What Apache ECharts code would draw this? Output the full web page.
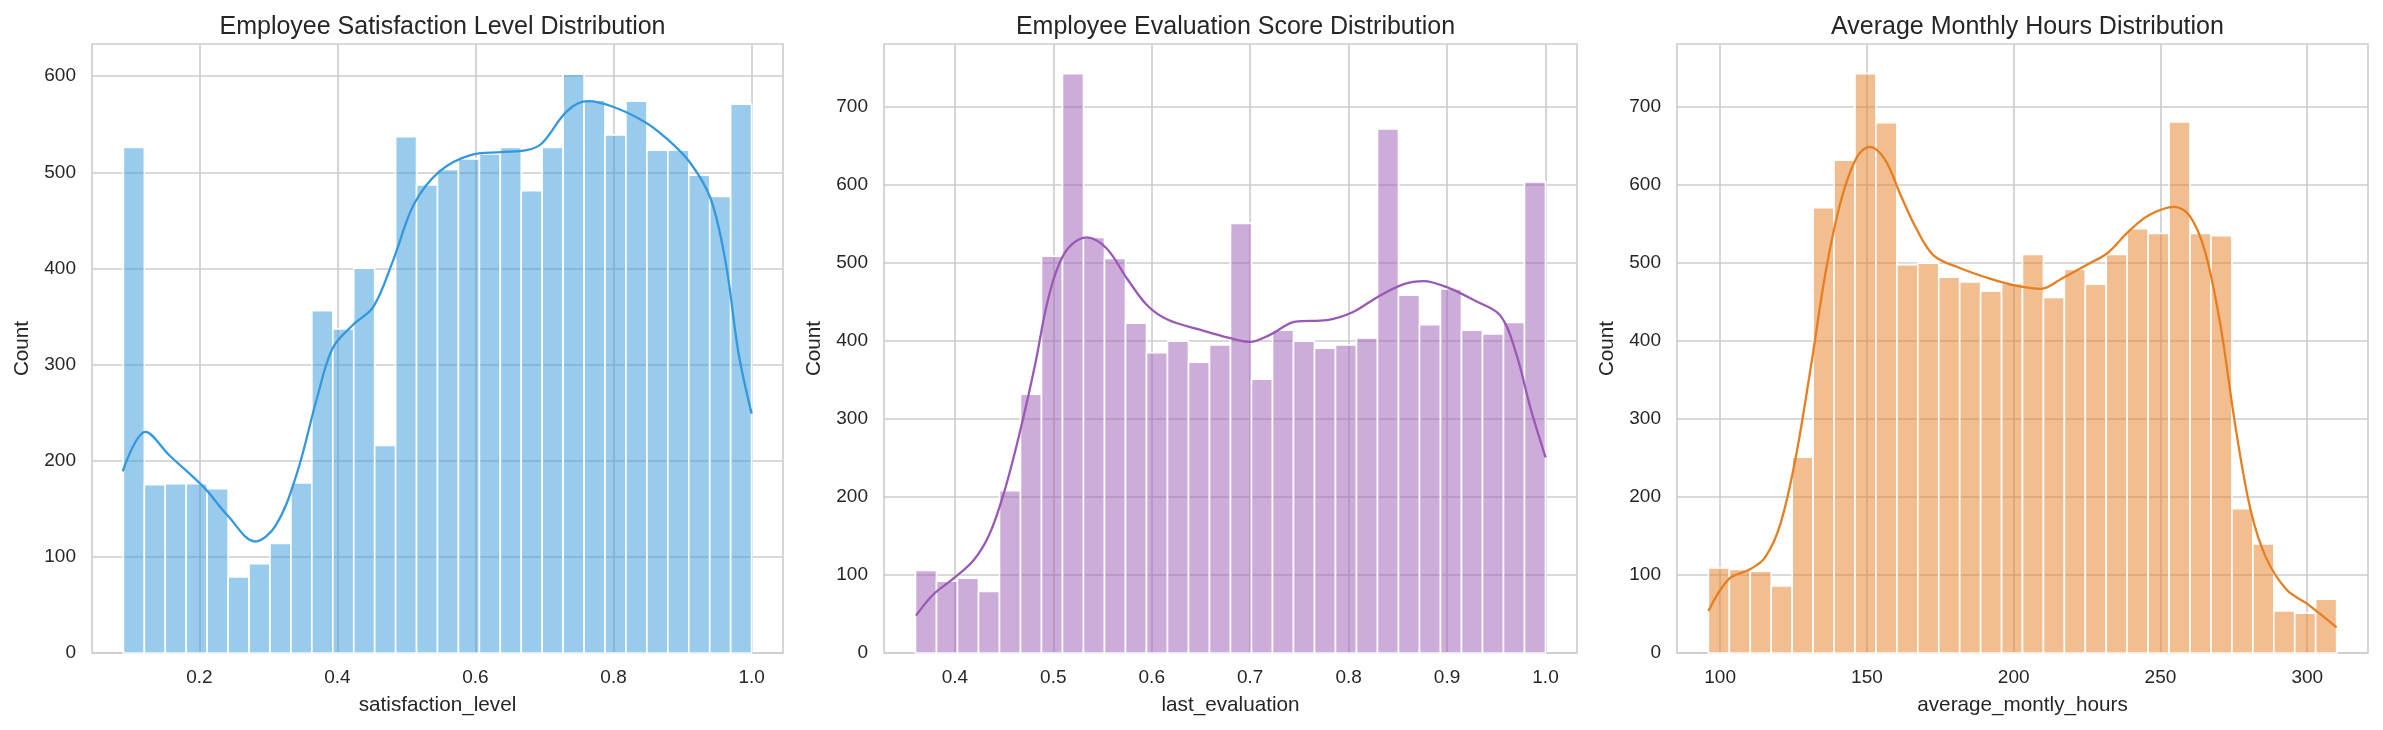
<!DOCTYPE html>
<html>
<head>
<meta charset="utf-8">
<script src="https://cdn.jsdelivr.net/npm/echarts@6/dist/echarts.min.js"></script>
<style>
html,body{margin:0;padding:0;background:#fff;}
#chart{width:2383px;height:730px;}
</style>
</head>
<body>
<div id="chart"></div>
<script>
// ---------- data ----------
const titles = ['Employee Satisfaction Level Distribution', 'Employee Evaluation Score Distribution', 'Average Monthly Hours Distribution'];
const xNames = ['satisfaction_level', 'last_evaluation', 'average_montly_hours'];

// histogram ranges [min, max] of the data (30 bins each)
const satRange = [0.09, 1.0];
const evalRange = [0.36, 1.0];
const hoursRange = [96, 310];

const satCounts = [526, 175, 176, 176, 171, 79, 93, 114, 177, 356, 337, 400, 216, 537, 487, 503, 514, 519, 526, 481, 526, 602, 575, 539, 574, 523, 523, 497, 475, 571];
const evalCounts = [106, 92, 96, 79, 208, 332, 509, 743, 533, 506, 423, 385, 400, 373, 395, 551, 351, 414, 400, 391, 395, 404, 672, 459, 421, 467, 414, 409, 424, 604];
const hoursCounts = [109, 107, 105, 86, 251, 571, 632, 743, 680, 498, 500, 482, 476, 464, 474, 511, 456, 492, 473, 511, 544, 538, 681, 538, 535, 185, 140, 54, 51, 69];

const satKdeX = [0.089, 0.122, 0.156, 0.207, 0.241, 0.281, 0.311, 0.341, 0.370, 0.393, 0.422, 0.452, 0.481, 0.511, 0.548, 0.593, 0.637, 0.674, 0.696, 0.733, 0.763, 0.800, 0.844, 0.874, 0.911, 0.941, 0.963, 0.981, 1.0];
const satKdeY = [189, 230, 206, 172, 143, 116, 133, 186, 264, 317, 341, 360, 409, 467, 501, 518, 521, 523, 530, 564, 574, 568, 553, 537, 510, 472, 404, 312, 249];

const evalKdeX = [0.3605, 0.378, 0.398, 0.419, 0.435, 0.450, 0.466, 0.482, 0.492, 0.502, 0.515, 0.534, 0.554, 0.575, 0.596, 0.617, 0.648, 0.679, 0.700, 0.720, 0.746, 0.778, 0.804, 0.830, 0.856, 0.876, 0.902, 0.928, 0.954, 0.970, 0.985, 1.0];
const evalKdeY = [48, 75, 95, 119, 152, 206, 283, 373, 439, 486, 519, 533, 519, 480, 445, 427, 415, 404, 399, 408, 425, 427, 437, 457, 473, 477, 468, 452, 433, 385, 313, 251];

const hoursKdeX = [96, 103, 110, 115.2, 120.4, 125.6, 130.9, 136.1, 141.3, 146.6, 150.9, 156.1, 161.4, 166.6, 172.7, 181.4, 191.9, 200.6, 209.3, 216.3, 225, 232, 239, 245.9, 254.7, 259.9, 265.1, 270.4, 275.6, 280.8, 286, 293, 300, 310];
const hoursKdeY = [54, 95, 107, 122, 164, 248, 367, 492, 582, 636, 649, 633, 588, 546, 510, 494, 480, 471, 467, 480, 498, 513, 540, 561, 572, 561, 516, 421, 289, 182, 122, 81, 63, 33];

// axis extents and tick labels
const xExtents = [[0.0445, 1.0455], [0.328, 1.032], [85.3, 320.7]];
const yMax = [633.5, 781, 781];
const xTicks = [[0.2, 0.4, 0.6, 0.8, 1.0], [0.4, 0.5, 0.6, 0.7, 0.8, 0.9, 1.0], [100, 150, 200, 250, 300]];
const yTicks = [[0, 100, 200, 300, 400, 500, 600], [0, 100, 200, 300, 400, 500, 600, 700], [0, 100, 200, 300, 400, 500, 600, 700]];

// ---------- styling ----------
const lineColors = ['#3498db', '#9b59b6', '#e67e22'];
const barColors = ['rgba(52,152,219,0.5)', 'rgba(155,89,182,0.5)', 'rgba(230,126,34,0.5)'];
const FONT = "'Liberation Sans', Arial, sans-serif";
const TEXT = '#262626';
const GRIDC = '#cccccc';

const grids = [
  {left: 92, top: 44, width: 691, height: 609},
  {left: 884, top: 44, width: 693, height: 609},
  {left: 1677, top: 44, width: 691, height: 609}
];

function binData(range, counts) {
  const n = counts.length, w = (range[1] - range[0]) / n;
  return counts.map((c, i) => [range[0] + i * w, range[0] + (i + 1) * w, c]);
}
function kdeData(xs, ys) { return xs.map((x, i) => [x, ys[i]]); }

const hist = [binData(satRange, satCounts), binData(evalRange, evalCounts), binData(hoursRange, hoursCounts)];
const kde = [kdeData(satKdeX, satKdeY), kdeData(evalKdeX, evalKdeY), kdeData(hoursKdeX, hoursKdeY)];

const option = {
  backgroundColor: '#ffffff',
  animation: false,
  textStyle: {fontFamily: FONT},
  title: grids.map((g, i) => ({
    text: titles[i],
    left: g.left + g.width / 2,
    top: 10,
    textAlign: 'center',
    textStyle: {fontFamily: FONT, fontSize: 25, fontWeight: 'normal', color: TEXT}
  })),
  grid: grids.map(g => Object.assign({show: true, borderColor: GRIDC, borderWidth: 1.6, backgroundColor: 'transparent', containLabel: false}, g)),
  xAxis: grids.map((g, i) => ({
    type: 'value', gridIndex: i,
    min: xExtents[i][0], max: xExtents[i][1],
    name: xNames[i], nameLocation: 'middle', nameGap: 42,
    nameTextStyle: {fontFamily: FONT, fontSize: 20.7, color: TEXT},
    axisLine: {show: false},
    axisTick: {show: false, customValues: xTicks[i]},
    axisLabel: {customValues: xTicks[i], fontFamily: FONT, fontSize: 19, color: TEXT, margin: 15,
      formatter: v => (i < 2 ? v.toFixed(1) : String(Math.round(v)))},
    splitLine: {show: true, lineStyle: {color: GRIDC, width: 1.6}}
  })),
  yAxis: grids.map((g, i) => ({
    type: 'value', gridIndex: i,
    min: 0, max: yMax[i],
    name: 'Count', nameLocation: 'middle', nameGap: 59,
    nameTextStyle: {fontFamily: FONT, fontSize: 20.7, color: TEXT},
    axisLine: {show: false},
    axisTick: {show: false, customValues: yTicks[i]},
    axisLabel: {customValues: yTicks[i], fontFamily: FONT, fontSize: 19, color: TEXT, margin: 16},
    splitLine: {show: true, lineStyle: {color: GRIDC, width: 1.6}}
  })),
  series: []
};

for (let i = 0; i < 3; i++) {
  option.series.push({
    type: 'custom', xAxisIndex: i, yAxisIndex: i,
    data: hist[i],
    encode: {x: [0, 1], y: 2},
    z: 2,
    renderItem: function (params, api) {
      const p0 = api.coord([api.value(0), api.value(2)]);
      const p1 = api.coord([api.value(1), 0]);
      return {
        type: 'rect',
        shape: {x: p0[0], y: p0[1], width: p1[0] - p0[0], height: p1[1] - p0[1]},
        style: {fill: barColors[i], stroke: '#ffffff', lineWidth: 1.6}
      };
    }
  });
  option.series.push({
    type: 'line', xAxisIndex: i, yAxisIndex: i,
    data: kde[i], smooth: 0.35, showSymbol: false, symbol: 'none',
    lineStyle: {color: lineColors[i], width: 2.3},
    z: 3
  });
}

const chart = echarts.init(document.getElementById('chart'), null, {renderer: 'canvas'});
chart.setOption(option);
</script>
</body>
</html>
